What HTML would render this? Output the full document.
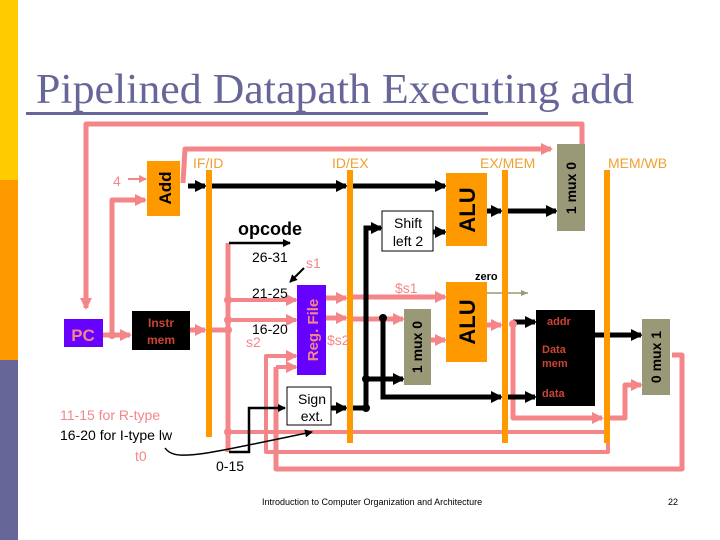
<!DOCTYPE html>
<html><head><meta charset="utf-8"><style>
html,body{margin:0;padding:0;background:#fff}
svg{display:block}
text{font-family:"Liberation Sans",Arial,sans-serif}
</style></head><body>
<svg width="720" height="540" viewBox="0 0 720 540" xmlns="http://www.w3.org/2000/svg">
<defs>
<marker id="ak" markerWidth="12" markerHeight="12" refX="10" refY="6" orient="auto" markerUnits="userSpaceOnUse"><path d="M0,0 L12,6 L0,12 z" fill="#000"/></marker>
<marker id="ap" markerWidth="12" markerHeight="12" refX="10" refY="6" orient="auto" markerUnits="userSpaceOnUse"><path d="M0,0 L12,6 L0,12 z" fill="#f4868a"/></marker>
<marker id="ak2" markerWidth="8" markerHeight="8" refX="7" refY="4" orient="auto" markerUnits="userSpaceOnUse"><path d="M0,0 L8,4 L0,8 z" fill="#000"/></marker>
<marker id="ap2" markerWidth="8" markerHeight="8" refX="7" refY="4" orient="auto" markerUnits="userSpaceOnUse"><path d="M0,0 L8,4 L0,8 z" fill="#f4868a"/></marker>
<marker id="ag" markerWidth="8" markerHeight="8" refX="7" refY="4" orient="auto" markerUnits="userSpaceOnUse"><path d="M0,1 L7,4 L0,7 z" fill="#999977"/></marker>
</defs>
<rect x="0" y="0" width="18" height="180" fill="#ffcc00"/>
<rect x="0" y="180" width="18" height="180" fill="#ff9900"/>
<rect x="0" y="360" width="18" height="180" fill="#666699"/>
<text x="36" y="103" font-size="42" fill="#666699" style="font-family:'Liberation Serif',serif" textLength="598" lengthAdjust="spacingAndGlyphs">Pipelined Datapath Executing add</text>
<rect x="26" y="112" width="462" height="3" fill="#666699"/>

<g fill="none" stroke="#f4868a" stroke-width="5" stroke-linejoin="round">
<path d="M570,196 L582,196 L582,124 L86,124 L86,308" marker-end="url(#ap)"/>
<path d="M183,183 L185,149 L551,149" marker-end="url(#ap)"/>
<path d="M103,335 L130,335" marker-end="url(#ap)"/>
<path d="M112,335 L112,200 L145,200" marker-end="url(#ap)"/>
<path d="M190,330 L205,330" marker-end="url(#ap)"/>
<path d="M212,330 L228,330"/>
<path d="M228,243 L228,452"/>
<path d="M228,300 L296,300" stroke-width="4" marker-end="url(#ap)"/>
<path d="M228,320 L296,320" stroke-width="4" marker-end="url(#ap)"/>
<path d="M326,298 L346,298" marker-end="url(#ap)"/>
<path d="M326,318 L346,318" marker-end="url(#ap)"/>
<path d="M228,432 L608,432 L608,452 L266,452 L266,356 L296,356" stroke-width="4" marker-end="url(#ap)"/>
<path d="M276,367 L296,367" stroke-width="4" marker-end="url(#ap)"/>
<path d="M276,367 L276,469 L682,469 L682,355 L672,355"/>
<path d="M353,297 L445,297" marker-end="url(#ap)"/>
<path d="M353,319 L403,319" marker-end="url(#ap)"/>
<path d="M431,340 L445,340" marker-end="url(#ap)"/>
<path d="M487,325 L501,325" marker-end="url(#ap)"/>
<path d="M513,324 L513,418 L602,418" marker-end="url(#ap)"/>
<path d="M610,418 L625,418 L625,385 L641,385" marker-end="url(#ap)"/>
</g>
<g fill="none" stroke="#000" stroke-width="5">
<path d="M188,186 L205,186" marker-end="url(#ak)"/>
<path d="M212,186 L346,186" marker-end="url(#ak)"/>
<path d="M353,186 L445,186" marker-end="url(#ak)"/>
<path d="M433,232 L445,232" marker-end="url(#ak)"/>
<path d="M487,211 L501,211" marker-end="url(#ak)"/>
<path d="M508,211 L556,211" marker-end="url(#ak)"/>
<path d="M331,408 L346,408" marker-end="url(#ak)"/>
<path d="M353,408 L366,408 L366,228 L381,228" marker-end="url(#ak)"/>
<path d="M366,379 L403,379" marker-end="url(#ak)"/>
<path d="M383,318 L383,397 L501,397" marker-end="url(#ak)"/>
<path d="M508,397 L535,397" marker-end="url(#ak)"/>
<path d="M513,322 L535,322" marker-end="url(#ak)"/>
<path d="M595,335 L641,335" marker-end="url(#ak)"/>
</g>
<g fill="none" stroke="#000" stroke-width="2.5">
<path d="M229,243 L290,243" marker-end="url(#ak2)"/>
<path d="M229,452 L249,452 L249,408 L285,408" marker-end="url(#ak2)"/>
<path d="M304,268 L290,282" stroke-width="2" marker-end="url(#ak2)"/>
<path d="M165,448 C175,462 200,455 312,432" stroke-width="1.5" marker-end="url(#ak2)"/>
</g>
<path d="M487,293 L528,293" stroke="#999977" stroke-width="1.5" marker-end="url(#ag)"/>
<path d="M128,179 L146,179" stroke="#f4868a" stroke-width="2" marker-end="url(#ap2)"/>
<g fill="#f4868a"><circle cx="228" cy="300" r="4"/><circle cx="228" cy="320" r="4"/><circle cx="228" cy="330" r="4"/><circle cx="228" cy="432" r="4"/><circle cx="112" cy="335" r="4"/><circle cx="513" cy="324" r="4"/></g>
<g fill="#000"><circle cx="383" cy="318" r="4"/><circle cx="366" cy="379" r="4"/><circle cx="366" cy="408" r="4"/></g>

<g fill="#ff9900">
<rect x="206" y="170" width="6" height="267"/>
<rect x="347" y="170" width="6" height="273"/>
<rect x="502" y="170" width="6" height="273"/>
<rect x="604" y="170" width="6" height="273"/>
</g>
<g font-size="14" fill="#f0a030">
<text x="193" y="168">IF/ID</text><text x="332" y="168">ID/EX</text><text x="480" y="168">EX/MEM</text><text x="608" y="168">MEM/WB</text>
</g>
<rect x="147" y="161" width="33" height="55" fill="#ff9900"/>
<text transform="translate(171,188) rotate(-90)" text-anchor="middle" font-size="17" font-weight="bold">Add</text>
<text x="113" y="186" font-size="14" fill="#f4868a">4</text>
<rect x="64" y="319" width="39" height="28" fill="#6600ff"/>
<text x="83" y="341" text-anchor="middle" font-size="17" font-weight="bold" fill="#f4868a">PC</text>
<rect x="132" y="311" width="58" height="39" fill="#000"/>
<text x="161" y="327" text-anchor="middle" font-size="12" font-weight="bold" fill="#cc4433">Instr</text>
<text x="161" y="344" text-anchor="middle" font-size="12" font-weight="bold" fill="#cc4433">mem</text>
<rect x="297" y="285" width="29" height="90" fill="#6600ff"/>
<text transform="translate(318,330) rotate(-90)" text-anchor="middle" font-size="15" font-weight="bold" fill="#f4868a">Reg. File</text>
<rect x="287" y="387" width="44" height="38" fill="#fff" stroke="#000" stroke-width="1"/>
<text x="312" y="404" text-anchor="middle" font-size="14">Sign</text>
<text x="312" y="421" text-anchor="middle" font-size="14">ext.</text>
<rect x="382" y="211" width="51" height="40" fill="#fff" stroke="#000" stroke-width="1"/>
<text x="408" y="228" text-anchor="middle" font-size="14">Shift</text>
<text x="408" y="246" text-anchor="middle" font-size="14">left 2</text>
<rect x="446" y="173" width="41" height="73" fill="#ff9900"/>
<text transform="translate(475,210) rotate(-90)" text-anchor="middle" font-size="22" font-weight="bold">ALU</text>
<rect x="446" y="282" width="41" height="80" fill="#ff9900"/>
<text transform="translate(475,322) rotate(-90)" text-anchor="middle" font-size="22" font-weight="bold">ALU</text>
<rect x="557" y="144" width="28" height="87" fill="#999977"/>
<text transform="translate(576,188) rotate(-90)" text-anchor="middle" font-size="14" font-weight="bold">1 mux 0</text>
<rect x="404" y="309" width="27" height="76" fill="#999977"/>
<text transform="translate(422,347) rotate(-90)" text-anchor="middle" font-size="14" font-weight="bold">1 mux 0</text>
<rect x="642" y="319" width="28" height="76" fill="#999977"/>
<text transform="translate(661,357) rotate(-90)" text-anchor="middle" font-size="14" font-weight="bold">0 mux 1</text>
<rect x="536" y="310" width="59" height="96" fill="#000"/>
<g font-size="11" fill="#cc4433" font-weight="bold">
<text x="547" y="325">addr</text><text x="542" y="353">Data</text><text x="542" y="367">mem</text><text x="542" y="397">data</text>
</g>
<text x="238" y="235" font-size="18" font-weight="bold">opcode</text>
<text x="252" y="262" font-size="14">26-31</text>
<text x="306" y="268" font-size="14" fill="#f4868a">s1</text>
<text x="252" y="298" font-size="14">21-25</text>
<text x="252" y="334" font-size="14">16-20</text>
<text x="246" y="347" font-size="14" fill="#f4868a">s2</text>
<text x="327" y="345" font-size="14" fill="#f4868a">$s2</text>
<text x="395" y="293" font-size="14" fill="#f4868a">$s1</text>
<text x="475" y="280" font-size="11" font-weight="bold">zero</text>
<text x="60" y="420" font-size="14" fill="#f4868a">11-15 for R-type</text>
<text x="60" y="440" font-size="14">16-20 for I-type lw</text>
<text x="135" y="461" font-size="14" fill="#f4868a">t0</text>
<text x="216" y="471" font-size="14">0-15</text>
<text x="262" y="505" font-size="9">Introduction to Computer Organization and Architecture</text>
<text x="668" y="505" font-size="9">22</text>
</svg>
</body></html>
